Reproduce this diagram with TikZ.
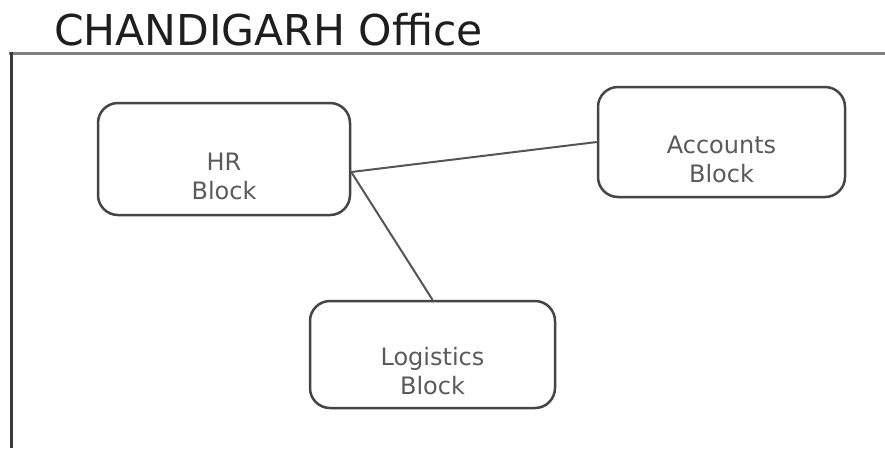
\documentclass[tikz,border=0pt]{standalone}
\usepackage{fontspec}
\setmainfont{DejaVu Sans}
\definecolor{titlegray}{HTML}{1E1E1E}
\definecolor{textgray}{HTML}{5A5A5A}
\definecolor{boxgray}{HTML}{454545}
\definecolor{linegray}{HTML}{555555}
\definecolor{framegray}{HTML}{808080}
\definecolor{sidegray}{HTML}{3A3A3A}
\begin{document}
\begin{tikzpicture}[x=1pt,y=-1pt,
        block/.style={shape=rectangle,rounded corners=20pt,draw=boxgray,line width=2.5pt,
            text=textgray,font=\fontsize{24}{29}\selectfont,align=center,
            text height=80pt,text depth=0pt},
        link/.style={draw=linegray,line width=2pt}]
            \useasboundingbox (0,0) rectangle (885,448);

            % title and frame
            \node[anchor=base west,inner sep=0pt,text=titlegray,font=\fontsize{42.5}{45}\selectfont] (title) at (54,45) {CHANDIGARH Office};
            \draw[framegray,line width=3.5pt] (9,53.5) -- (885,53.5);
            \draw[sidegray,line width=3pt] (11,52) -- (11,448);

            % blocks
            \node[block,minimum width=252pt,minimum height=112pt] (hr) at (224,159) {HR\\Block};
            \node[block,minimum width=247pt,minimum height=110pt] (acc) at (721.5,142) {Accounts\\Block};
            \node[block,minimum width=245pt,minimum height=107pt] (log) at (432.5,354.5) {Logistics\\Block};

            % links
            \coordinate (hrport) at ([yshift=-13pt]hr.east);
            \path [link](hrport) edge (acc.west);
            \path [link](hrport) edge (log.north);
        \end{tikzpicture}
\end{document}
